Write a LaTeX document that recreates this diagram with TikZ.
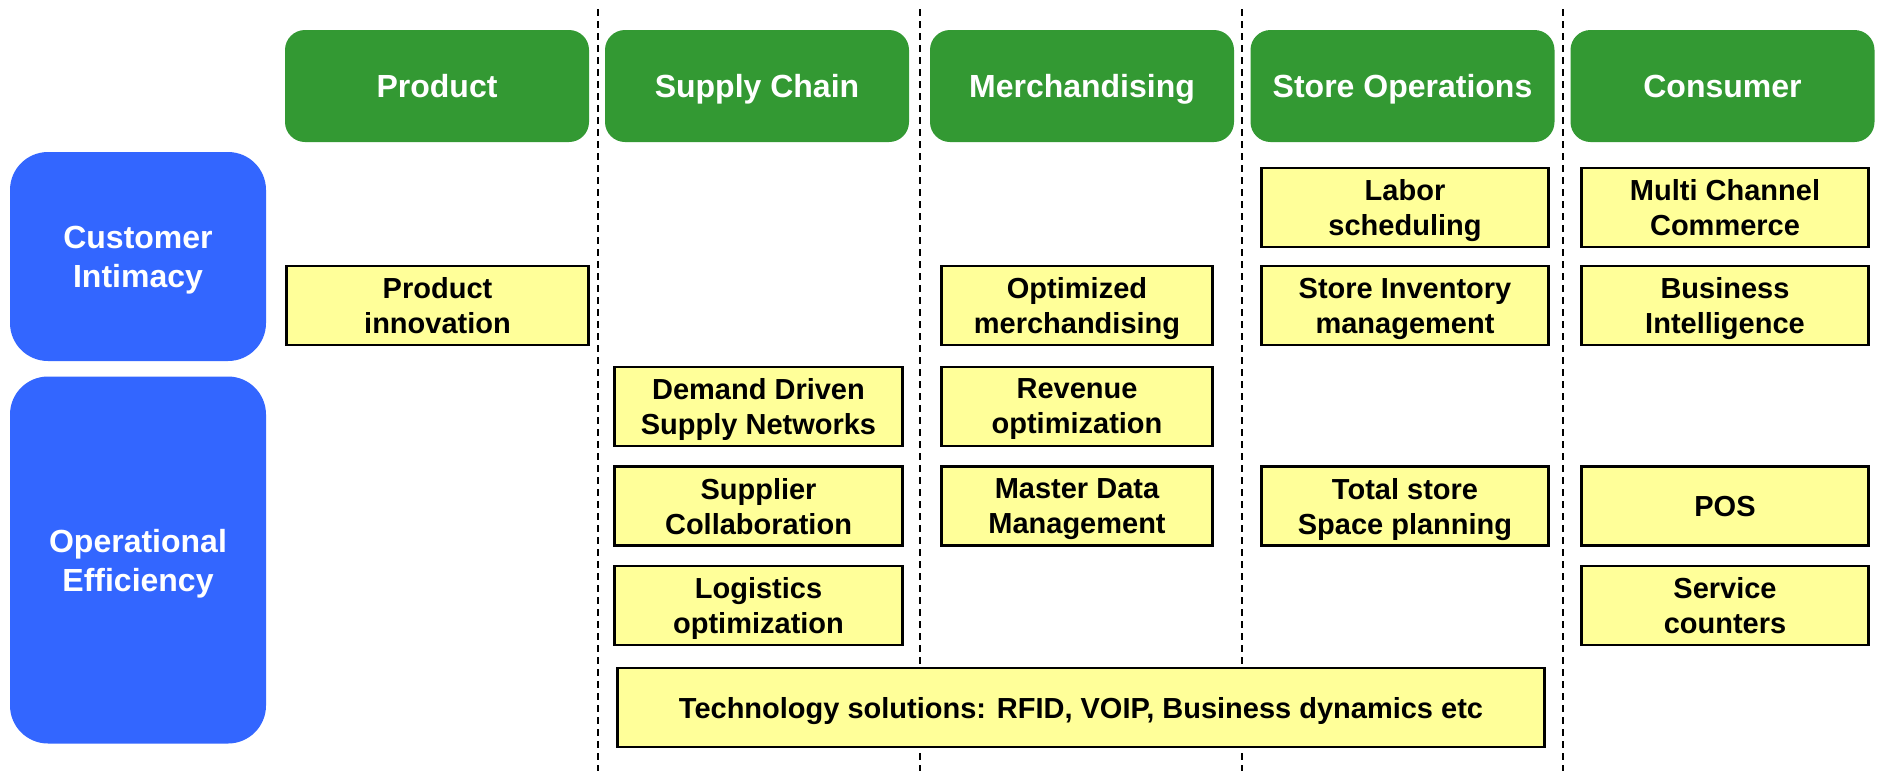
\documentclass[tikz,border=0pt]{standalone}
\usepackage{fontspec}
\setmainfont{Liberation Sans}
\definecolor{hdrgreen}{HTML}{339933}
\definecolor{rowblue}{HTML}{3366FF}
\definecolor{boxyellow}{HTML}{FFFF99}
\begin{document}
\begin{tikzpicture}[x=1pt,y=-1pt,
  hdr/.style={fill=hdrgreen, draw=none, rounded corners=20pt, text=white, inner sep=0pt,
    minimum width=304pt, minimum height=112pt, font=\fontsize{32}{39}\selectfont\bfseries,
    text height=23pt, text depth=0pt},
  rowbox/.style={fill=rowblue, draw=none, rounded corners=38pt, text=white, inner sep=0pt,
    minimum width=256pt, font=\fontsize{32}{39}\selectfont\bfseries, align=center, text depth=0pt},
  ybox/.style={fill=boxyellow, draw=black, line width=2.5pt, inner sep=0pt,
    minimum height=79pt, font=\fontsize{29}{35}\selectfont\bfseries, align=center, text depth=0pt},
  yone/.style={ybox, text height=21pt},
  sep/.style={draw=black, line width=2pt, dash pattern=on 7pt off 5pt}
]
\fill[white] (0,0) rectangle (1877,771);
% separators
\foreach \n/\x in {s1/598, s2/920, s3/1241.5, s4/1563} {
  \coordinate (\n t) at (\x,9);
  \coordinate (\n b) at (\x,771);
  \draw[sep] (\n t) -- (\n b);
}
% headers
\node[hdr] (hProduct) at (437,86) {Product};
\node[hdr] (hSupply) at (757,86) {Supply Chain};
\node[hdr] (hMerch) at (1082,86) {Merchandising};
\node[hdr] (hStore) at (1402.5,86) {Store Operations};
\node[hdr] (hConsumer) at (1722.5,86) {Consumer};
% row labels
\node[rowbox, minimum height=209pt] (ci) at (138,256.5) {Customer\\Intimacy};
\node[rowbox, minimum height=367pt] (oe) at (138,560) {Operational\\Efficiency};
% yellow boxes
\node[ybox, minimum width=302pt] (prodinno) at (437.5,305.5) {Product\\innovation};
\node[ybox, minimum width=288pt] (ddsn) at (758.5,406.5) {Demand Driven\\Supply Networks};
\node[ybox, minimum width=288pt] (supcol) at (758.5,506) {Supplier\\Collaboration};
\node[ybox, minimum width=288pt] (logopt) at (758.5,605.5) {Logistics\\optimization};
\node[ybox, minimum width=271pt] (optmerch) at (1077,305.5) {Optimized\\merchandising};
\node[ybox, minimum width=271pt] (revopt) at (1077,406.5) {Revenue\\optimization};
\node[ybox, minimum width=271pt] (mdm) at (1077,506) {Master Data\\Management};
\node[ybox, minimum width=287pt] (labor) at (1405,207.5) {Labor\\scheduling};
\node[ybox, minimum width=287pt] (sim) at (1405,305.5) {Store Inventory\\management};
\node[ybox, minimum width=287pt] (tssp) at (1405,506) {Total store\\Space planning};
\node[ybox, minimum width=287pt] (mcc) at (1725,207.5) {Multi Channel\\Commerce};
\node[ybox, minimum width=287pt] (bi) at (1725,305.5) {Business\\Intelligence};
\node[yone, minimum width=287pt] (pos) at (1725,506) {POS};
\node[ybox, minimum width=287pt] (svc) at (1725,605.5) {Service\\counters};
\node[yone, minimum width=927pt] (tech) at (1081,707.5) {Technology solutions: RFID, VOIP, Business dynamics etc};
\end{tikzpicture}
\end{document}
